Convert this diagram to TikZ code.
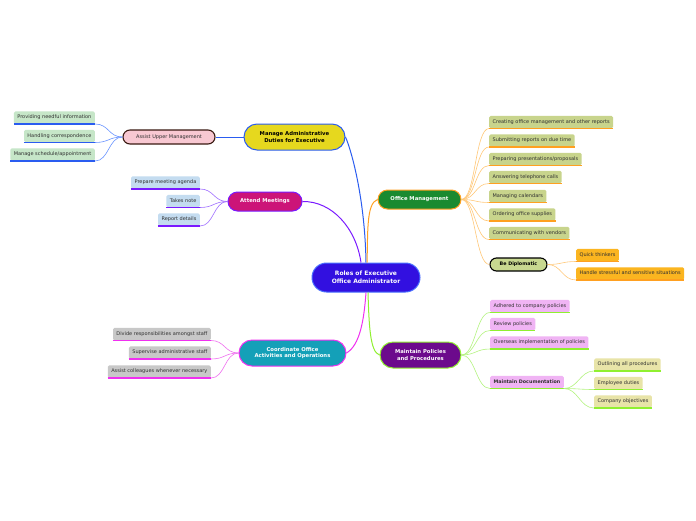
\documentclass[tikz,border=0pt]{standalone}
\usepackage{fontspec}
\setmainfont{DejaVu Sans}
\definecolor{rootfill}{HTML}{3210E0}
\definecolor{rootdraw}{HTML}{4A70FF}
\definecolor{mafill}{HTML}{E6D81E}
\definecolor{bluec}{HTML}{2A5CF0}
\definecolor{bluel}{HTML}{6A94FF}
\definecolor{aumfill}{HTML}{F8C8D2}
\definecolor{darkb}{HTML}{3A1A12}
\definecolor{greenleaf}{HTML}{C6E6C8}
\definecolor{amfill}{HTML}{CC1478}
\definecolor{purplec}{HTML}{7A1AFF}
\definecolor{purplel}{HTML}{A070FF}
\definecolor{blueleaf}{HTML}{C4DCF0}
\definecolor{cofill}{HTML}{14A0B8}
\definecolor{magc}{HTML}{F030F0}
\definecolor{magl}{HTML}{F070F0}
\definecolor{grayleaf}{HTML}{C8C8C8}
\definecolor{omfill}{HTML}{1A8A30}
\definecolor{orc}{HTML}{FFA020}
\definecolor{orl}{HTML}{FFC878}
\definecolor{oliveleaf}{HTML}{C8D48C}
\definecolor{bdfill}{HTML}{C8D890}
\definecolor{orleaf}{HTML}{FBB520}
\definecolor{mpfill}{HTML}{6C0A8C}
\definecolor{grc}{HTML}{90F030}
\definecolor{grl}{HTML}{B4F480}
\definecolor{lilac}{HTML}{F0B4F4}
\definecolor{khaki}{HTML}{E8E4A8}
\definecolor{leaftext}{HTML}{303030}
\tikzset{
  big/.style={draw, line width=1pt, align=center, font=\fontsize{5.3}{6.6}\selectfont\bfseries, inner sep=1pt},
  leaf/.style={fill=#1, rounded corners=1.5pt, inner xsep=3.4pt, inner ysep=0pt, minimum height=12.5pt,
    text height=3.8pt, text depth=1pt, font=\fontsize{5}{6}\selectfont, text=leaftext},
  ul/.style={line width=1.1pt, draw=#1},
  conn/.style={line width=0.6pt, draw=#1},
  mconn/.style={line width=1pt, draw=#1},
}
\begin{document}
\begin{tikzpicture}[x=1pt,y=-1pt]
\useasboundingbox[fill=white] (0,0) rectangle (696,520);

% root
\node[big, fill=rootfill, draw=rootdraw, text=white, rounded corners=14.5pt, minimum width=108pt, minimum height=29pt,
  font=\fontsize{6}{7.8}\selectfont\bfseries] (root) at (366,277.5) {Roles of Executive\\Office Administrator};

% main branches
\node[big, fill=mafill, draw=bluec, rounded corners=13pt, minimum width=101pt, minimum height=26pt] (ma) at (294.5,137) {Manage Administrative\\Duties for Executive};
\node[big, fill=amfill, draw=purplec, text=white, rounded corners=9.5pt, minimum width=74pt, minimum height=19pt] (am) at (265,201.5) {Attend Meetings};
\node[big, fill=cofill, draw=magc, text=white, rounded corners=13pt, minimum width=107pt, minimum height=26pt] (co) at (292.5,353) {Coordinate Office\\Activities and Operations};
\node[big, fill=omfill, draw=orc, text=white, rounded corners=9.5pt, minimum width=83pt, minimum height=19pt] (om) at (419.5,199.5) {Office Management};
\node[big, fill=mpfill, draw=grc, text=white, rounded corners=13pt, minimum width=81pt, minimum height=26pt] (mp) at (420.5,355) {Maintain Policies\\and Procedures};

% sub branches
\node[draw=darkb, line width=1.1pt, fill=aumfill, rounded corners=7pt, minimum width=92pt, minimum height=14pt, inner sep=0pt,
  font=\fontsize{5}{6}\selectfont, text=leaftext] (aum) at (169,137) {Assist Upper Management};
\node[draw=black, line width=1.1pt, fill=bdfill, rounded corners=6.5pt, minimum width=57pt, minimum height=13pt, inner sep=0pt,
  font=\fontsize{4.8}{5.8}\selectfont\bfseries] (bd) at (518.5,264.5) {Be Diplomatic};

% center connectors
\draw[mconn=bluec] (root.north) .. controls (365,200) and (352,152) .. (ma.east);
\draw[mconn=purplec] ([xshift=-5pt]root.north) .. controls (356,228) and (332,201) .. (am.east);
\draw[mconn=orc] ([xshift=1pt]root.north) .. controls (368,235) and (366,203) .. (om.west);
\draw[mconn=magc] (root.south) .. controls (364,320) and (360,345) .. (co.east);
\draw[mconn=grc] ([xshift=2pt]root.south) .. controls (369,325) and (370,352) .. (mp.west);
\draw[mconn=bluec] (aum.east) -- (ma.west);

% left leaves: Assist Upper Management
\node[leaf=greenleaf, anchor=south east] (p1) at (95,124) {Providing needful information};
\node[leaf=greenleaf, anchor=south east] (p2) at (95,142.5) {Handling correspondence};
\node[leaf=greenleaf, anchor=south east] (p3) at (95,161) {Manage schedule/appointment};
\foreach \n in {p1,p2,p3}{
  \draw[conn=bluel] (aum.west) .. controls +(-14,0) and +(14,0) .. (\n.south east);
  \draw[ul=bluec] (\n.south west) -- (\n.south east);
}

% Attend meetings leaves
\node[leaf=blueleaf, anchor=south east] (a1) at (200,189) {Prepare meeting agenda};
\node[leaf=blueleaf, anchor=south east] (a2) at (200,207.5) {Takes note};
\node[leaf=blueleaf, anchor=south east] (a3) at (200,226) {Report details};
\foreach \n in {a1,a2,a3}{
  \draw[conn=purplel] (am.west) .. controls +(-14,0) and +(14,0) .. (\n.south east);
  \draw[ul=purplec] (\n.south west) -- (\n.south east);
}

% Coordinate leaves
\node[leaf=grayleaf, anchor=south east] (c1) at (211,340.5) {Divide responsibilities amongst staff};
\node[leaf=grayleaf, anchor=south east] (c2) at (211,359) {Supervise administrative staff};
\node[leaf=grayleaf, anchor=south east] (c3) at (211,378) {Assist colleagues whenever necessary};
\foreach \n in {c1,c2,c3}{
  \draw[conn=magl] (co.west) .. controls +(-14,0) and +(14,0) .. (\n.south east);
  \draw[ul=magc] (\n.south west) -- (\n.south east);
}

% Office management leaves
\node[leaf=oliveleaf, anchor=south west] (o1) at (489,128.5) {Creating office management and other reports};
\node[leaf=oliveleaf, anchor=south west] (o2) at (489,147) {Submitting reports on due time};
\node[leaf=oliveleaf, anchor=south west] (o3) at (489,165.5) {Preparing presentations/proposals};
\node[leaf=oliveleaf, anchor=south west] (o4) at (489,183.5) {Answering telephone calls};
\node[leaf=oliveleaf, anchor=south west] (o5) at (489,202.5) {Managing calendars};
\node[leaf=oliveleaf, anchor=south west] (o6) at (489,221) {Ordering office supplies};
\node[leaf=oliveleaf, anchor=south west] (o7) at (489,239.5) {Communicating with vendors};
\foreach \n in {o1,o2,o3,o4,o5,o6,o7}{
  \draw[conn=orl] (om.east) .. controls +(14,0) and +(-14,0) .. (\n.south west);
  \draw[ul=orc] (\n.south west) -- (\n.south east);
}
\draw[conn=orl] (om.east) .. controls +(14,0) and +(-14,0) .. (bd.west);

% Be diplomatic leaves
\node[leaf=orleaf, anchor=south west] (b1) at (576,261.5) {Quick thinkers};
\node[leaf=orleaf, anchor=south west] (b2) at (576,280) {Handle stressful and sensitive situations};
\foreach \n in {b1,b2}{
  \draw[conn=orl] (bd.east) .. controls +(14,0) and +(-14,0) .. (\n.south west);
  \draw[ul=orc] (\n.south west) -- (\n.south east);
}

% Maintain policies leaves
\node[leaf=lilac, anchor=south west] (m1) at (490,312.5) {Adhered to company policies};
\node[leaf=lilac, anchor=south west] (m2) at (490,330.5) {Review policies};
\node[leaf=lilac, anchor=south west] (m3) at (490,349) {Overseas implementation of policies};
\node[leaf=lilac, anchor=south west, font=\fontsize{4.8}{5.8}\selectfont\bfseries] (md) at (490,388.5) {Maintain Documentation};
\foreach \n in {m1,m2,m3,md}{
  \draw[conn=grl] (mp.east) .. controls +(14,0) and +(-14,0) .. (\n.south west);
  \draw[ul=grc] (\n.south west) -- (\n.south east);
}

% documentation leaves
\node[leaf=khaki, anchor=south west] (d1) at (594,371) {Outlining all procedures};
\node[leaf=khaki, anchor=south west] (d2) at (594,389.5) {Employee duties};
\node[leaf=khaki, anchor=south west] (d3) at (594,408) {Company objectives};
\foreach \n in {d1,d2,d3}{
  \draw[conn=grl] (md.south east) .. controls +(14,0) and +(-14,0) .. (\n.south west);
  \draw[ul=grc] (\n.south west) -- (\n.south east);
}
\end{tikzpicture}
\end{document}
